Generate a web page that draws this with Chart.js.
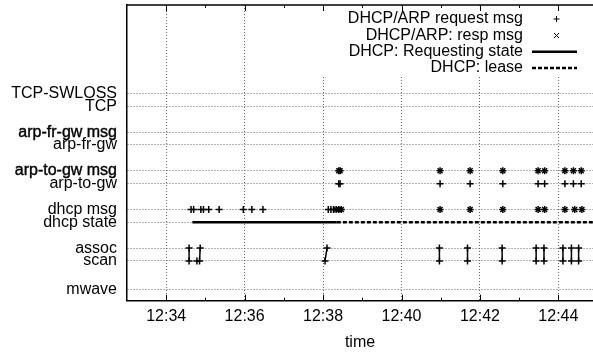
<!DOCTYPE html>
<html>
<head>
<meta charset="utf-8">
<script src="https://cdn.jsdelivr.net/npm/chart.js@4.4.0/dist/chart.umd.min.js"></script>
<style>
  html, body { margin: 0; padding: 0; overflow: hidden; background: #fff; }
</style>
</head>
<body>
<canvas id="chart" width="593" height="354"></canvas>
<script>
// rows on the y axis, bottom to top
var rowNames = ['mwave', 'scan', 'assoc', 'dhcp state', 'dhcp msg', 'arp-to-gw', 'arp-to-gw msg', 'arp-fr-gw', 'arp-fr-gw msg', 'TCP', 'TCP-SWLOSS'];
var rowLevels = [0, 2.2, 3.2, 5.2, 6.2, 8.2, 9.2, 11.2, 12.2, 14.2, 15.2];
var timeTicks = ['12:34', '12:36', '12:38', '12:40', '12:42', '12:44'];
var timeRange = ['12:33:00', '12:44:53'];

// events
var scanTimes = ['12:34:35', '12:34:47', '12:34:51', '12:38:03', '12:40:58', '12:41:41', '12:42:34', '12:43:26', '12:43:38', '12:44:07', '12:44:20', '12:44:31'];
var assocTimes = ['12:34:35', '12:34:52', '12:38:06', '12:40:58', '12:41:41', '12:42:34', '12:43:26', '12:43:38', '12:44:07', '12:44:20', '12:44:31'];
var dhcpRequestTimes = ['12:34:38', '12:34:42', '12:34:53', '12:34:57', '12:35:05', '12:35:21', '12:35:58', '12:36:11', '12:36:28',
  '12:38:08', '12:38:12', '12:38:16', '12:38:20', '12:38:24', '12:38:28',
  '12:40:59', '12:41:45', '12:42:35', '12:43:29', '12:43:39', '12:44:10', '12:44:25', '12:44:36'];
var dhcpRespTimes = ['12:38:20', '12:38:24', '12:38:28', '12:40:59', '12:41:45', '12:42:35', '12:43:29', '12:43:39', '12:44:10', '12:44:25', '12:44:36'];
var arpRequestTimes = ['12:38:24', '12:38:26', '12:40:59', '12:41:45', '12:42:35', '12:43:29', '12:43:39', '12:44:10', '12:44:23', '12:44:35'];
var arpRespTimes = ['12:38:24', '12:38:26', '12:40:59', '12:41:45', '12:42:35', '12:43:29', '12:43:39', '12:44:10', '12:44:23', '12:44:35'];
var requestingState = ['12:34:40', '12:38:21'];
var leaseState = ['12:38:21', '12:45:00'];

var legendNames = ['DHCP/ARP request msg', 'DHCP/ARP: resp msg', 'DHCP: Requesting state', 'DHCP: lease'];

function toMin(s) {
  var p = s.split(':');
  return (+p[0] - 12) * 60 + (+p[1]) + (p[2] ? +p[2] / 60 : 0);
}
function level(name) { return rowLevels[rowNames.indexOf(name)]; }
function pts(times, name) {
  return times.map(function (t) { return { x: toMin(t), y: level(name) }; });
}

// scan -> assoc connecting segments
var linkPts = [];
assocTimes.forEach(function (t) {
  var a = toMin(t), s = null;
  scanTimes.forEach(function (u) { if (toMin(u) <= a) s = toMin(u); });
  if (s === null) return;
  linkPts.push({ x: s, y: level('scan') }, { x: a, y: level('assoc') }, { x: a, y: null });
});

var scanPts = pts(scanTimes, 'scan').concat(pts(assocTimes, 'assoc'));
var reqPts = pts(dhcpRequestTimes, 'dhcp msg').concat(pts(arpRequestTimes, 'arp-to-gw'), pts(arpRequestTimes, 'arp-to-gw msg'));
var respPts = pts(dhcpRespTimes, 'dhcp msg').concat(pts(arpRespTimes, 'arp-to-gw msg'));

var frame = {
  id: 'frame',
  afterDatasetsDraw: function (chart) {
    var ctx = chart.ctx, a = chart.chartArea;
    ctx.save();
    ctx.fillStyle = '#fff';
    ctx.fillRect(312, a.top + 1, a.right - 312, 76 - a.top);
    ctx.fillStyle = '#000';
    ctx.font = '16px "Liberation Sans", Arial, sans-serif';
    ctx.textAlign = 'right';
    ctx.textBaseline = 'middle';
    var rows = [19, 35.5, 51.8, 68];
    legendNames.forEach(function (n, i) { ctx.fillText(n, 523, rows[i]); });
    ctx.strokeStyle = '#000';
    ctx.lineWidth = 1;
    ctx.beginPath();
    ctx.moveTo(553.5, 19); ctx.lineTo(559.5, 19);
    ctx.moveTo(556.5, 16); ctx.lineTo(556.5, 22);
    ctx.moveTo(554, 33); ctx.lineTo(559, 38);
    ctx.moveTo(559, 33); ctx.lineTo(554, 38);
    ctx.stroke();
    ctx.lineWidth = 2.5;
    ctx.beginPath(); ctx.moveTo(532, rows[2]); ctx.lineTo(577, rows[2]); ctx.stroke();
    ctx.setLineDash([4, 2]);
    ctx.beginPath(); ctx.moveTo(532, rows[3]); ctx.lineTo(577, rows[3]); ctx.stroke();
    ctx.restore();
  },
  afterDraw: function (chart) {
    var ctx = chart.ctx, a = chart.chartArea, xs = chart.scales.x;
    ctx.save();
    ctx.strokeStyle = '#000';
    ctx.lineWidth = 1.5;
    ctx.beginPath(); ctx.moveTo(a.left, a.top); ctx.lineTo(a.right, a.top); ctx.stroke();
    ctx.lineWidth = 1;
    ctx.beginPath();
    for (var m = Math.ceil(xs.min) + 1; m < xs.max; m++) {
      var px = Math.round(xs.getPixelForValue(m)) + 0.5;
      var len = m % 2 === 0 ? 6 : 3;
      ctx.moveTo(px, a.top); ctx.lineTo(px, a.top + len);
      ctx.moveTo(px, a.bottom); ctx.lineTo(px, a.bottom - len);
    }
    ctx.stroke();
    ctx.restore();
  }
};

var font = '"Liberation Sans", Arial, sans-serif';

new Chart(document.getElementById('chart').getContext('2d'), {
  type: 'scatter',
  data: {
    datasets: [
      {
        label: 'DHCP: Requesting state',
        data: pts(requestingState, 'dhcp state'),
        showLine: true, borderColor: '#000', borderWidth: 2.5, pointRadius: 0
      },
      {
        label: 'DHCP: lease',
        data: pts(leaseState, 'dhcp state'),
        showLine: true, borderColor: '#000', borderWidth: 2.5, borderDash: [4, 2], pointRadius: 0
      },
      {
        label: 'scan/assoc',
        data: linkPts,
        showLine: true, spanGaps: false, borderColor: '#000', borderWidth: 1.5, pointRadius: 0
      },
      {
        label: 'scan/assoc points',
        data: scanPts,
        pointStyle: 'cross', pointRadius: 3.5, borderColor: '#000', borderWidth: 1.5
      },
      {
        label: legendNames[0],
        data: reqPts,
        pointStyle: 'cross', pointRadius: 3.5, borderColor: '#000', borderWidth: 1.5
      },
      {
        label: legendNames[1],
        data: respPts,
        pointStyle: 'crossRot', pointRadius: 3.5, borderColor: '#000', borderWidth: 1.5
      }
    ]
  },
  options: {
    responsive: false,
    animation: false,
    layout: { autoPadding: false, padding: { top: 5, right: 0, left: 0, bottom: 0 } },
    plugins: { legend: { display: false }, tooltip: { enabled: false } },
    elements: { point: { hoverRadius: 3.5 } },
    scales: {
      x: {
        type: 'linear',
        min: toMin(timeRange[0]),
        max: toMin(timeRange[1]),
        afterFit: function (s) { s.height = 53.3; s.paddingLeft = 0; s.paddingRight = 0; },
        afterBuildTicks: function (s) {
          s.ticks = timeTicks.map(function (t) { return { value: toMin(t) }; });
        },
        ticks: {
          autoSkip: false, maxRotation: 0, padding: 6, color: '#000',
          font: { family: font, size: 16 },
          callback: function (v) { return timeTicks[timeTicks.map(toMin).indexOf(v)]; }
        },
        grid: { color: '#666', lineWidth: 1, drawTicks: false },
        border: { color: '#000', width: 1.5, dash: [1, 2] },
        title: { display: true, text: 'time', color: '#000', font: { family: font, size: 16 }, padding: { top: 0, bottom: 2 } }
      },
      y: {
        type: 'linear',
        min: -0.88,
        max: 22.06,
        afterFit: function (s) { s.width = 127; s.paddingTop = 0; s.paddingBottom = 0; },
        afterBuildTicks: function (s) {
          s.ticks = rowLevels.map(function (v) { return { value: v }; });
        },
        ticks: {
          autoSkip: false, padding: 10, color: '#000',
          font: { family: font, size: 16 },
          textStrokeColor: '#000',
          textStrokeWidth: function (c) {
            var n = rowNames[rowLevels.indexOf(c.tick ? c.tick.value : NaN)];
            return (n === 'arp-fr-gw msg' || n === 'arp-to-gw msg') ? 0.4 : 0;
          },
          callback: function (v) { return rowNames[rowLevels.indexOf(v)]; }
        },
        grid: { color: '#666', lineWidth: 1, drawTicks: false },
        border: { color: '#000', width: 1.5, dash: [1, 2] }
      }
    }
  },
  plugins: [frame]
});
</script>
</body>
</html>
